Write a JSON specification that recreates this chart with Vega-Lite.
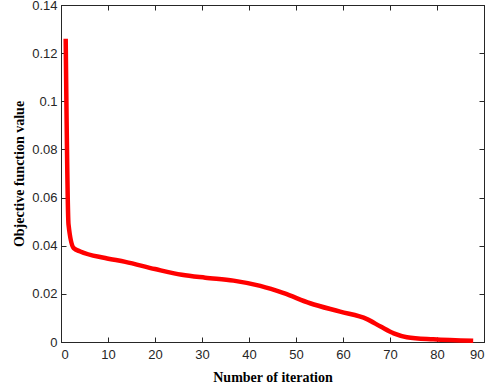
{
  "$schema": "https://vega.github.io/schema/vega-lite/v6.json",
  "width": 423,
  "height": 337,
  "autosize": {"type": "none"},
  "padding": {"left": 61, "top": 5, "right": 3, "bottom": 47},
  "background": "white",
  "config": {
    "view": {"stroke": "#262626", "strokeWidth": 1},
    "axis": {
      "grid": false,
      "domainColor": "#262626",
      "tickColor": "#262626",
      "labelColor": "#262626",
      "labelFont": "Liberation Sans",
      "labelFontSize": 13,
      "titleFont": "Liberation Serif",
      "titleFontSize": 14,
      "titleFontWeight": "bold",
      "titleColor": "#000000",
      "tickSize": -5,
      "labelPadding": 6
    }
  },
  "data": {
    "values": [
      {"iter": 1, "obj": 0.126},
      {"iter": 1.6, "obj": 0.0488},
      {"iter": 2.7, "obj": 0.039},
      {"iter": 4.1, "obj": 0.0376},
      {"iter": 9.4, "obj": 0.0349},
      {"iter": 13.7, "obj": 0.0333},
      {"iter": 20, "obj": 0.0303},
      {"iter": 25.7, "obj": 0.0279},
      {"iter": 30.7, "obj": 0.0267},
      {"iter": 36.7, "obj": 0.0255},
      {"iter": 42.4, "obj": 0.0233},
      {"iter": 47.4, "obj": 0.0203},
      {"iter": 53, "obj": 0.0161},
      {"iter": 59.4, "obj": 0.0126},
      {"iter": 65.1, "obj": 0.0095},
      {"iter": 68, "obj": 0.0064},
      {"iter": 70.8, "obj": 0.0036},
      {"iter": 73.6, "obj": 0.002},
      {"iter": 79.2, "obj": 0.0011},
      {"iter": 87.7, "obj": 0.0005}
    ]
  },
  "resolve": {"axis": {"x": "independent", "y": "independent"}},
  "layer": [
    {
      "mark": {"type": "line", "color": "#ff0000", "strokeWidth": 4.5, "interpolate": "monotone"},
      "encoding": {
        "x": {
          "field": "iter", "type": "quantitative",
          "scale": {"domain": [0, 90], "nice": false},
          "axis": {"title": "Number of iteration", "values": [0,10,20,30,40,50,60,70,80,90], "format": "d", "labelPadding": 11, "titlePadding": 9}
        },
        "y": {
          "field": "obj", "type": "quantitative",
          "scale": {"domain": [0, 0.14], "nice": false},
          "axis": {"title": "Objective function value", "values": [0,0.02,0.04,0.06,0.08,0.1,0.12,0.14], "format": "~g", "labelPadding": 9, "titlePadding": 5}
        }
      }
    },
    {
      "mark": {"type": "line", "opacity": 0},
      "encoding": {
        "x": {
          "field": "iter", "type": "quantitative",
          "scale": {"domain": [0, 90], "nice": false},
          "axis": {"orient": "top", "title": null, "labels": false, "values": [0,10,20,30,40,50,60,70,80,90]}
        },
        "y": {
          "field": "obj", "type": "quantitative",
          "scale": {"domain": [0, 0.14], "nice": false},
          "axis": {"orient": "right", "title": null, "labels": false, "values": [0,0.02,0.04,0.06,0.08,0.1,0.12,0.14]}
        }
      }
    }
  ]
}
